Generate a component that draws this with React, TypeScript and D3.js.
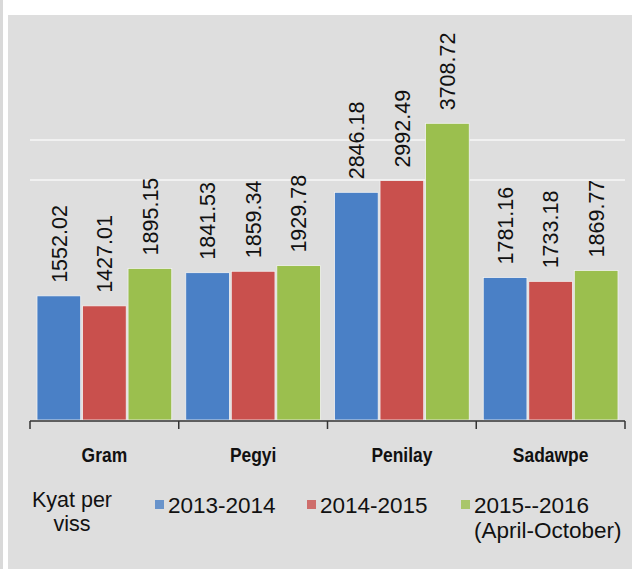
import React from "react";
import * as d3 from "d3";

const categories = ["Gram", "Pegyi", "Penilay", "Sadawpe"];
const seriesNames = ["2013-2014", "2014-2015", "2015--2016"];
const seriesColors = ["#4a80c6", "#c9504d", "#9bbf4e"];
const values2013 = [1552.02, 1841.53, 2846.18, 1781.16];
const values2014 = [1427.01, 1859.34, 2992.49, 1733.18];
const values2015 = [1895.15, 1929.78, 3708.72, 1869.77];
const gridTicks = [3000, 3500];

const W = 632;
const H = 569;
const FONT = "'Liberation Sans', Arial, sans-serif";

const App = () => {
  const seriesValues = [values2013, values2014, values2015];

  const x = d3.scaleBand<string>().domain(categories).range([30, 625]);
  const xInner = d3
    .scaleBand<string>()
    .domain(seriesNames)
    .range([7, x.bandwidth() - 7])
    .paddingInner(0.04);
  const y = d3.scaleLinear().domain([0, 5000]).range([420, 20]);

  const bounds = [...categories.map((c) => x(c) as number), x.range()[1]];

  return (
    <svg
      width={W}
      height={H}
      style={{ position: "absolute", left: 0, top: 0, fontFamily: FONT }}
    >
      <rect x={0} y={0} width={W} height={H} fill="#ffffff" />
      <rect x={0} y={0} width={3} height={H} fill="#d9d9d9" />
      <rect x={8} y={15} width={W - 8} height={H - 15} fill="#dedede" />

      {/* grid lines */}
      {gridTicks.map((t) => (
        <line
          key={t}
          x1={30}
          x2={625}
          y1={y(t)}
          y2={y(t)}
          stroke="#f7f7f7"
          strokeWidth={1.5}
        />
      ))}

      {/* bars */}
      {categories.map((c, i) => (
        <g key={c} transform={`translate(${x(c)},0)`}>
          {seriesNames.map((s, j) => {
            const v = seriesValues[j][i];
            const bx = xInner(s) as number;
            return (
              <rect
                key={s}
                x={bx}
                y={y(v)}
                width={xInner.bandwidth()}
                height={y(0) - y(v)}
                fill={seriesColors[j]}
                stroke="#f2f2f2"
                strokeWidth={0.8}
              />
            );
          })}
          {seriesNames.map((s, j) => {
            const v = seriesValues[j][i];
            const cx = (xInner(s) as number) + xInner.bandwidth() / 2;
            return (
              <text
                key={s}
                transform={`translate(${cx},${y(v) - 13}) rotate(-90)`}
                dy="0.36em"
                fontSize={21.5}
                fill="#111"
              >
                {v.toFixed(2)}
              </text>
            );
          })}
          <text
            x={x.bandwidth() / 2}
            y={462}
            textAnchor="middle"
            fontSize={21}
            fontWeight="bold"
            fill="#111"
            transform={`translate(${(x.bandwidth() / 2) * 0.17},0) scale(0.83,1)`}
          >
            {c}
          </text>
        </g>
      ))}

      {/* x axis */}
      <line x1={30} x2={625} y1={421} y2={421} stroke="#333" strokeWidth={1.5} />
      {bounds.map((b, i) => (
        <line key={i} x1={b} x2={b} y1={421} y2={429} stroke="#333" strokeWidth={1.5} />
      ))}

      {/* legend */}
      <text x={72} y={507} textAnchor="middle" fontSize={21.5} fill="#111">
        Kyat per
      </text>
      <text x={72} y={531} textAnchor="middle" fontSize={21.5} fill="#111">
        viss
      </text>
      {seriesNames.map((s, j) => {
        const lx = [155, 307, 461][j];
        return (
          <g key={s}>
            <rect x={lx} y={500} width={9} height={9} fill={seriesColors[j]} opacity={0.8} />
            <text x={lx + 13} y={513} fontSize={22.5} fill="#111">
              {s}
            </text>
          </g>
        );
      })}
      <text x={474} y={538} fontSize={22.5} fill="#111">
        (April-October)
      </text>
    </svg>
  );
};

export default App;
